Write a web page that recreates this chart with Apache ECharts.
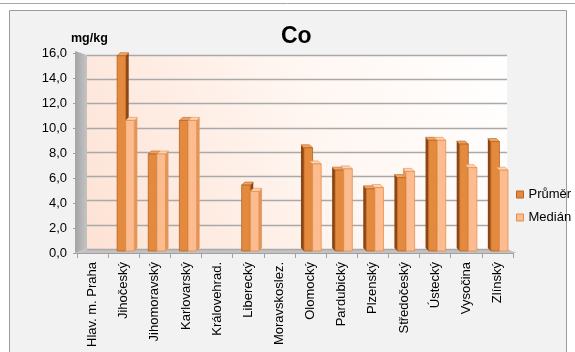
<!DOCTYPE html>
<html>
<head>
<meta charset="utf-8">
<script src="https://cdn.jsdelivr.net/npm/echarts@6/dist/echarts.min.js"></script>
<style>
  html, body { margin: 0; padding: 0; background: #ffffff; }
  #chart { width: 575px; height: 352px; }
</style>
</head>
<body>
<div id="chart"></div>
<script>
// Obsah kobaltu (Co) v mg/kg podle krajů
const categories = [
  'Hlav. m. Praha', 'Jihočeský', 'Jihomoravský', 'Karlovarský', 'Královehrad.',
  'Liberecký', 'Moravskoslez.', 'Olomocký', 'Pardubický', 'Plzenský',
  'Středočeský', 'Ústecký', 'Vysočina', 'Zlínský'
];
const prumer = [null, 15.7, 7.8, 10.5, null, 5.3, null, 8.3, 6.5, 5.0, 5.9, 8.9, 8.6, 8.8];
const median = [null, 10.5, 7.8, 10.5, null, 4.8, null, 7.0, 6.6, 5.1, 6.4, 8.9, 6.7, 6.5];
const yTicks = [0, 2, 4, 6, 8, 10, 12, 14, 16];

const FONT = 'Liberation Sans, Arial, sans-serif';
const chart = echarts.init(document.getElementById('chart'), null, { renderer: 'canvas' });

const styles = [
  { front: '#e48a3e', edge: '#b8621f', side: '#8c4613', top: '#f0a566' },
  { front: '#fdbc8f', edge: '#e0904e', side: '#e39457', top: '#fed3b3' }
];

// pseudo-3D column: front face, side face and top face
function makeRender(sIdx) {
  return function (params, api) {
    const i = api.value(0);
    const v = api.value(1);
    if (v == null || isNaN(v)) return;
    const other = api.value(2);
    const base = api.coord([i, 0]);
    const top = api.coord([i, v]);
    const w = 8.6, d = 3;
    const cx = base[0] + 2;
    const x0 = sIdx === 0 ? cx - w : cx;
    const yt = top[1], yb = base[1];
    const rightSide = i < 7;
    const st = styles[sIdx];
    const children = [];
    if (rightSide) {
      children.push({
        type: 'polygon',
        shape: { points: [[x0 + w, yt], [x0 + w + d, yt - d], [x0 + w + d, yb - d], [x0 + w, yb]] },
        style: { fill: st.side }
      });
      children.push({
        type: 'polygon',
        shape: { points: [[x0, yt], [x0 + w, yt], [x0 + w + d, yt - d], [x0 + d, yt - d]] },
        style: { fill: st.top, stroke: st.edge, lineWidth: 0.6 }
      });
    } else {
      let sideBottom = yb;
      if (sIdx === 1) {
        sideBottom = (other != null && !isNaN(other)) ? api.coord([i, other])[1] : yb;
      }
      if (sideBottom > yt) {
        children.push({
          type: 'polygon',
          shape: { points: [[x0, yt], [x0 - d, yt - d], [x0 - d, sideBottom - d], [x0, sideBottom]] },
          style: { fill: st.side }
        });
      }
      children.push({
        type: 'polygon',
        shape: { points: [[x0, yt], [x0 + w, yt], [x0 + w - d, yt - d], [x0 - d, yt - d]] },
        style: { fill: st.top, stroke: st.edge, lineWidth: 0.6 }
      });
    }
    children.push({
      type: 'rect',
      shape: { x: x0, y: yt, width: w, height: yb - yt },
      style: { fill: st.front, stroke: st.edge, lineWidth: 0.8 }
    });
    return { type: 'group', children: children };
  };
}

const prumerData = categories.map((c, i) => [i, prumer[i], median[i]]);
const medianData = categories.map((c, i) => [i, median[i], prumer[i]]);

const option = {
  backgroundColor: '#ffffff',
  animation: false,
  textStyle: { fontFamily: FONT },
  title: {
    text: 'Co',
    left: 281, top: 25, padding: 0,
    textStyle: { fontFamily: FONT, fontSize: 23, fontWeight: 'bold', color: '#000' }
  },
  legend: {
    orient: 'vertical',
    left: 516, top: 188, padding: 0, width: 58,
    itemWidth: 7, itemHeight: 7, itemGap: 10,
    icon: 'rect',
    textStyle: { fontFamily: FONT, fontSize: 13, color: '#000', overflow: 'none', width: 58 },
    data: [
      { name: 'Průměr', itemStyle: { color: styles[0].front, borderColor: styles[0].edge, borderWidth: 1 } },
      { name: 'Medián', itemStyle: { color: styles[1].front, borderColor: styles[1].edge, borderWidth: 1 } }
    ]
  },
  graphic: [
    { type: 'line', shape: { x1: 0, y1: 3.5, x2: 575, y2: 3.5 }, style: { stroke: '#a8a8a8', lineWidth: 1 }, z: -20 },
    { type: 'rect', shape: { x: 9.5, y: 10.5, width: 557, height: 350 },
      style: { fill: '#f2f2f2', stroke: '#9c9c9c', lineWidth: 1 }, z: -20 },
    // back wall
    { type: 'rect', shape: { x: 87, y: 55, width: 420, height: 194 },
      style: { fill: new echarts.graphic.LinearGradient(0, 1, 1, 0, [
        { offset: 0, color: '#fde2d4' }, { offset: 0.55, color: '#fff6f1' }, { offset: 1, color: '#ffffff' }
      ]) }, z: -10 },
    // left wall
    { type: 'polygon', shape: { points: [[75, 51], [87, 55], [87, 249], [75, 253]] },
      style: { fill: new echarts.graphic.LinearGradient(0, 0, 1, 0, [
        { offset: 0, color: '#a4a4a4' }, { offset: 1, color: '#c4c4c4' }
      ]) }, z: -10 },
    // floor
    { type: 'polygon', shape: { points: [[75, 253], [87, 249], [507, 249], [517, 253]] },
      style: { fill: '#c2c2c2' }, z: -10 },
    { type: 'text', left: 71, top: 32,
      style: { text: 'mg/kg', font: 'bold 12.5px ' + FONT, fill: '#000' } }
  ],
  grid: [
    { left: 77, right: 62, top: 53, bottom: 99 },
    { left: 87, right: 68, top: 55, bottom: 103 },
    { left: 77, right: 62, top: 52, bottom: 101 }
  ],
  xAxis: [
    {
      gridIndex: 0, type: 'category', data: categories,
      axisLine: { show: true, lineStyle: { color: '#a0a0a0', width: 1 } },
      axisTick: { show: true, length: 5, lineStyle: { color: '#a0a0a0' } },
      axisLabel: { rotate: 90, interval: 0, fontSize: 13, fontFamily: FONT, color: '#000', margin: 9 }
    },
    { gridIndex: 1, type: 'category', data: categories, show: false },
    { gridIndex: 2, type: 'category', data: categories, show: false }
  ],
  yAxis: [
    {
      gridIndex: 0, type: 'value', min: 0, max: 16, interval: 2,
      axisLine: { show: false },
      axisTick: { show: true, length: 4, lineStyle: { color: '#a0a0a0' } },
      splitLine: { show: false },
      axisLabel: {
        fontSize: 13, fontFamily: FONT, color: '#000', margin: 10,
        formatter: v => yTicks.indexOf(v) >= 0 ? v.toFixed(1).replace('.', ',') : ''
      }
    },
    {
      gridIndex: 1, type: 'value', min: 0, max: 16, interval: 2,
      axisLine: { show: false }, axisTick: { show: false }, axisLabel: { show: false },
      splitLine: { show: true, lineStyle: { color: '#a9a9a9', width: 1.3 } }
    },
    { gridIndex: 2, type: 'value', min: 0, max: 16, interval: 2, show: false }
  ],
  series: [
    {
      name: 'Průměr', type: 'custom', xAxisIndex: 2, yAxisIndex: 2,
      renderItem: makeRender(0), data: prumerData,
      encode: { x: 0, y: 1 },
      itemStyle: { color: styles[0].front }
    },
    {
      name: 'Medián', type: 'custom', xAxisIndex: 2, yAxisIndex: 2,
      renderItem: makeRender(1), data: medianData,
      encode: { x: 0, y: 1 },
      itemStyle: { color: styles[1].front }
    }
  ]
};

chart.setOption(option);
</script>
</body>
</html>
